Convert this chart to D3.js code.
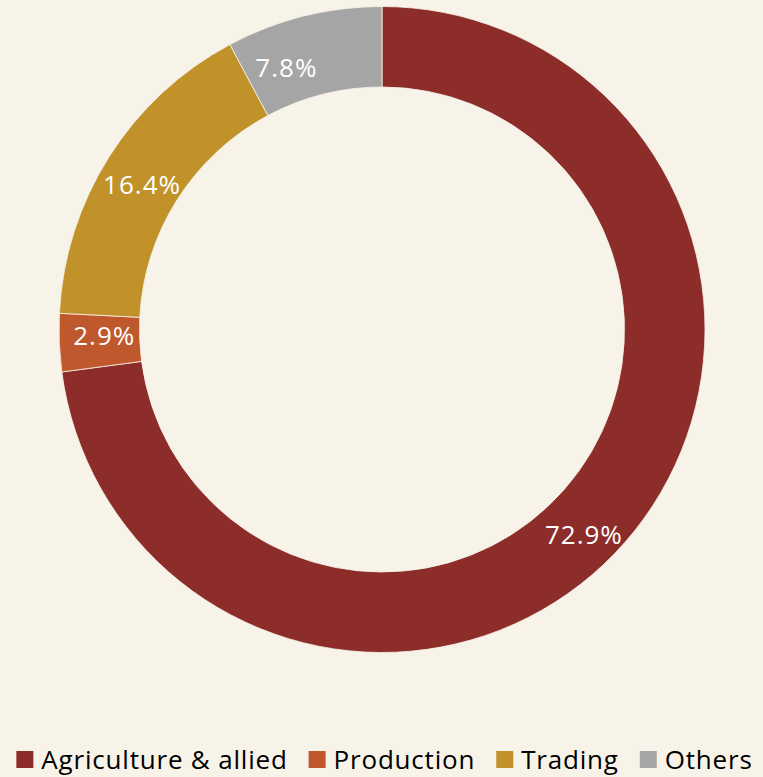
<!DOCTYPE html>
<html>
<head>
<meta charset="utf-8">
<script src="https://cdn.jsdelivr.net/npm/d3@7"></script>
<style>
  html, body { margin: 0; padding: 0; background: #F7F3E9; }
  svg { display: block; }
</style>
</head>
<body>
<svg id="chart"></svg>
<script>
// ---- data ----
var categories = ["Agriculture & allied", "Production", "Trading", "Others"];
var shares = [72.9, 2.9, 16.4, 7.8];
var colors = ["#8C2D29", "#C0582D", "#C1922A", "#A5A5A5"];

// ---- sizing ----
var width = 763, height = 777;
var cx = 382, cy = 329.5;
var outerR = 323, innerR = 242.5;

// Excel moved a few labels a little off the ring middle
var labelNudge = [[-11, 18], [5, -6], [-1, 6], [-27, 12]];

var svg = d3.select("#chart")
    .attr("width", width)
    .attr("height", height)
    .style("font-family", "'Open Sans', Lato, sans-serif");

svg.append("rect")
    .attr("width", width).attr("height", height)
    .attr("fill", "#F7F3E9");

var pie = d3.pie().sort(null).value(function(d) { return d; });
var arc = d3.arc().innerRadius(innerR).outerRadius(outerR);
var labelArc = d3.arc().innerRadius(283).outerRadius(283);

var g = svg.append("g").attr("transform", "translate(" + cx + "," + cy + ")");
var arcs = pie(shares);

g.selectAll("path")
  .data(arcs)
  .enter().append("path")
    .attr("d", arc)
    .attr("fill", function(d, i) { return colors[i]; })
    .attr("stroke", "#F7F3E9")
    .attr("stroke-width", 0.8);

g.selectAll("text.lbl")
  .data(arcs)
  .enter().append("text")
    .attr("class", "lbl")
    .attr("x", function(d, i) { return labelArc.centroid(d)[0] + labelNudge[i][0]; })
    .attr("y", function(d, i) { return labelArc.centroid(d)[1] + labelNudge[i][1]; })
    .attr("text-anchor", "middle")
    .attr("dominant-baseline", "central")
    .attr("fill", "#ffffff")
    .style("font-size", "26px")
    .style("letter-spacing", "1px")
    .text(function(d) { return d.data.toFixed(1) + "%"; });

// ---- legend ----
var legend = svg.append("g");
var box = 17, gap = 8, itemGap = 21, legendY = 769;
var items = legend.selectAll("g")
  .data(categories)
  .enter().append("g");

items.append("rect")
    .attr("width", box).attr("height", box)
    .attr("y", legendY - box - 1)
    .attr("fill", function(d, i) { return colors[i]; });

items.append("text")
    .attr("x", box + gap)
    .attr("y", legendY)
    .attr("fill", "#000")
    .style("font-size", "26px")
    .style("letter-spacing", "0.8px")
    .text(function(d) { return d; });

// lay items out side by side, centred (a touch right, like the original)
var widths = [];
items.each(function() { widths.push(this.getBBox().width); });
var total = d3.sum(widths) + itemGap * (widths.length - 1);
var xpos = (width - total) / 2 + 3;
items.attr("transform", function(d, i) {
  var t = "translate(" + xpos + ",0)";
  xpos += widths[i] + itemGap;
  return t;
});
</script>
</body>
</html>
